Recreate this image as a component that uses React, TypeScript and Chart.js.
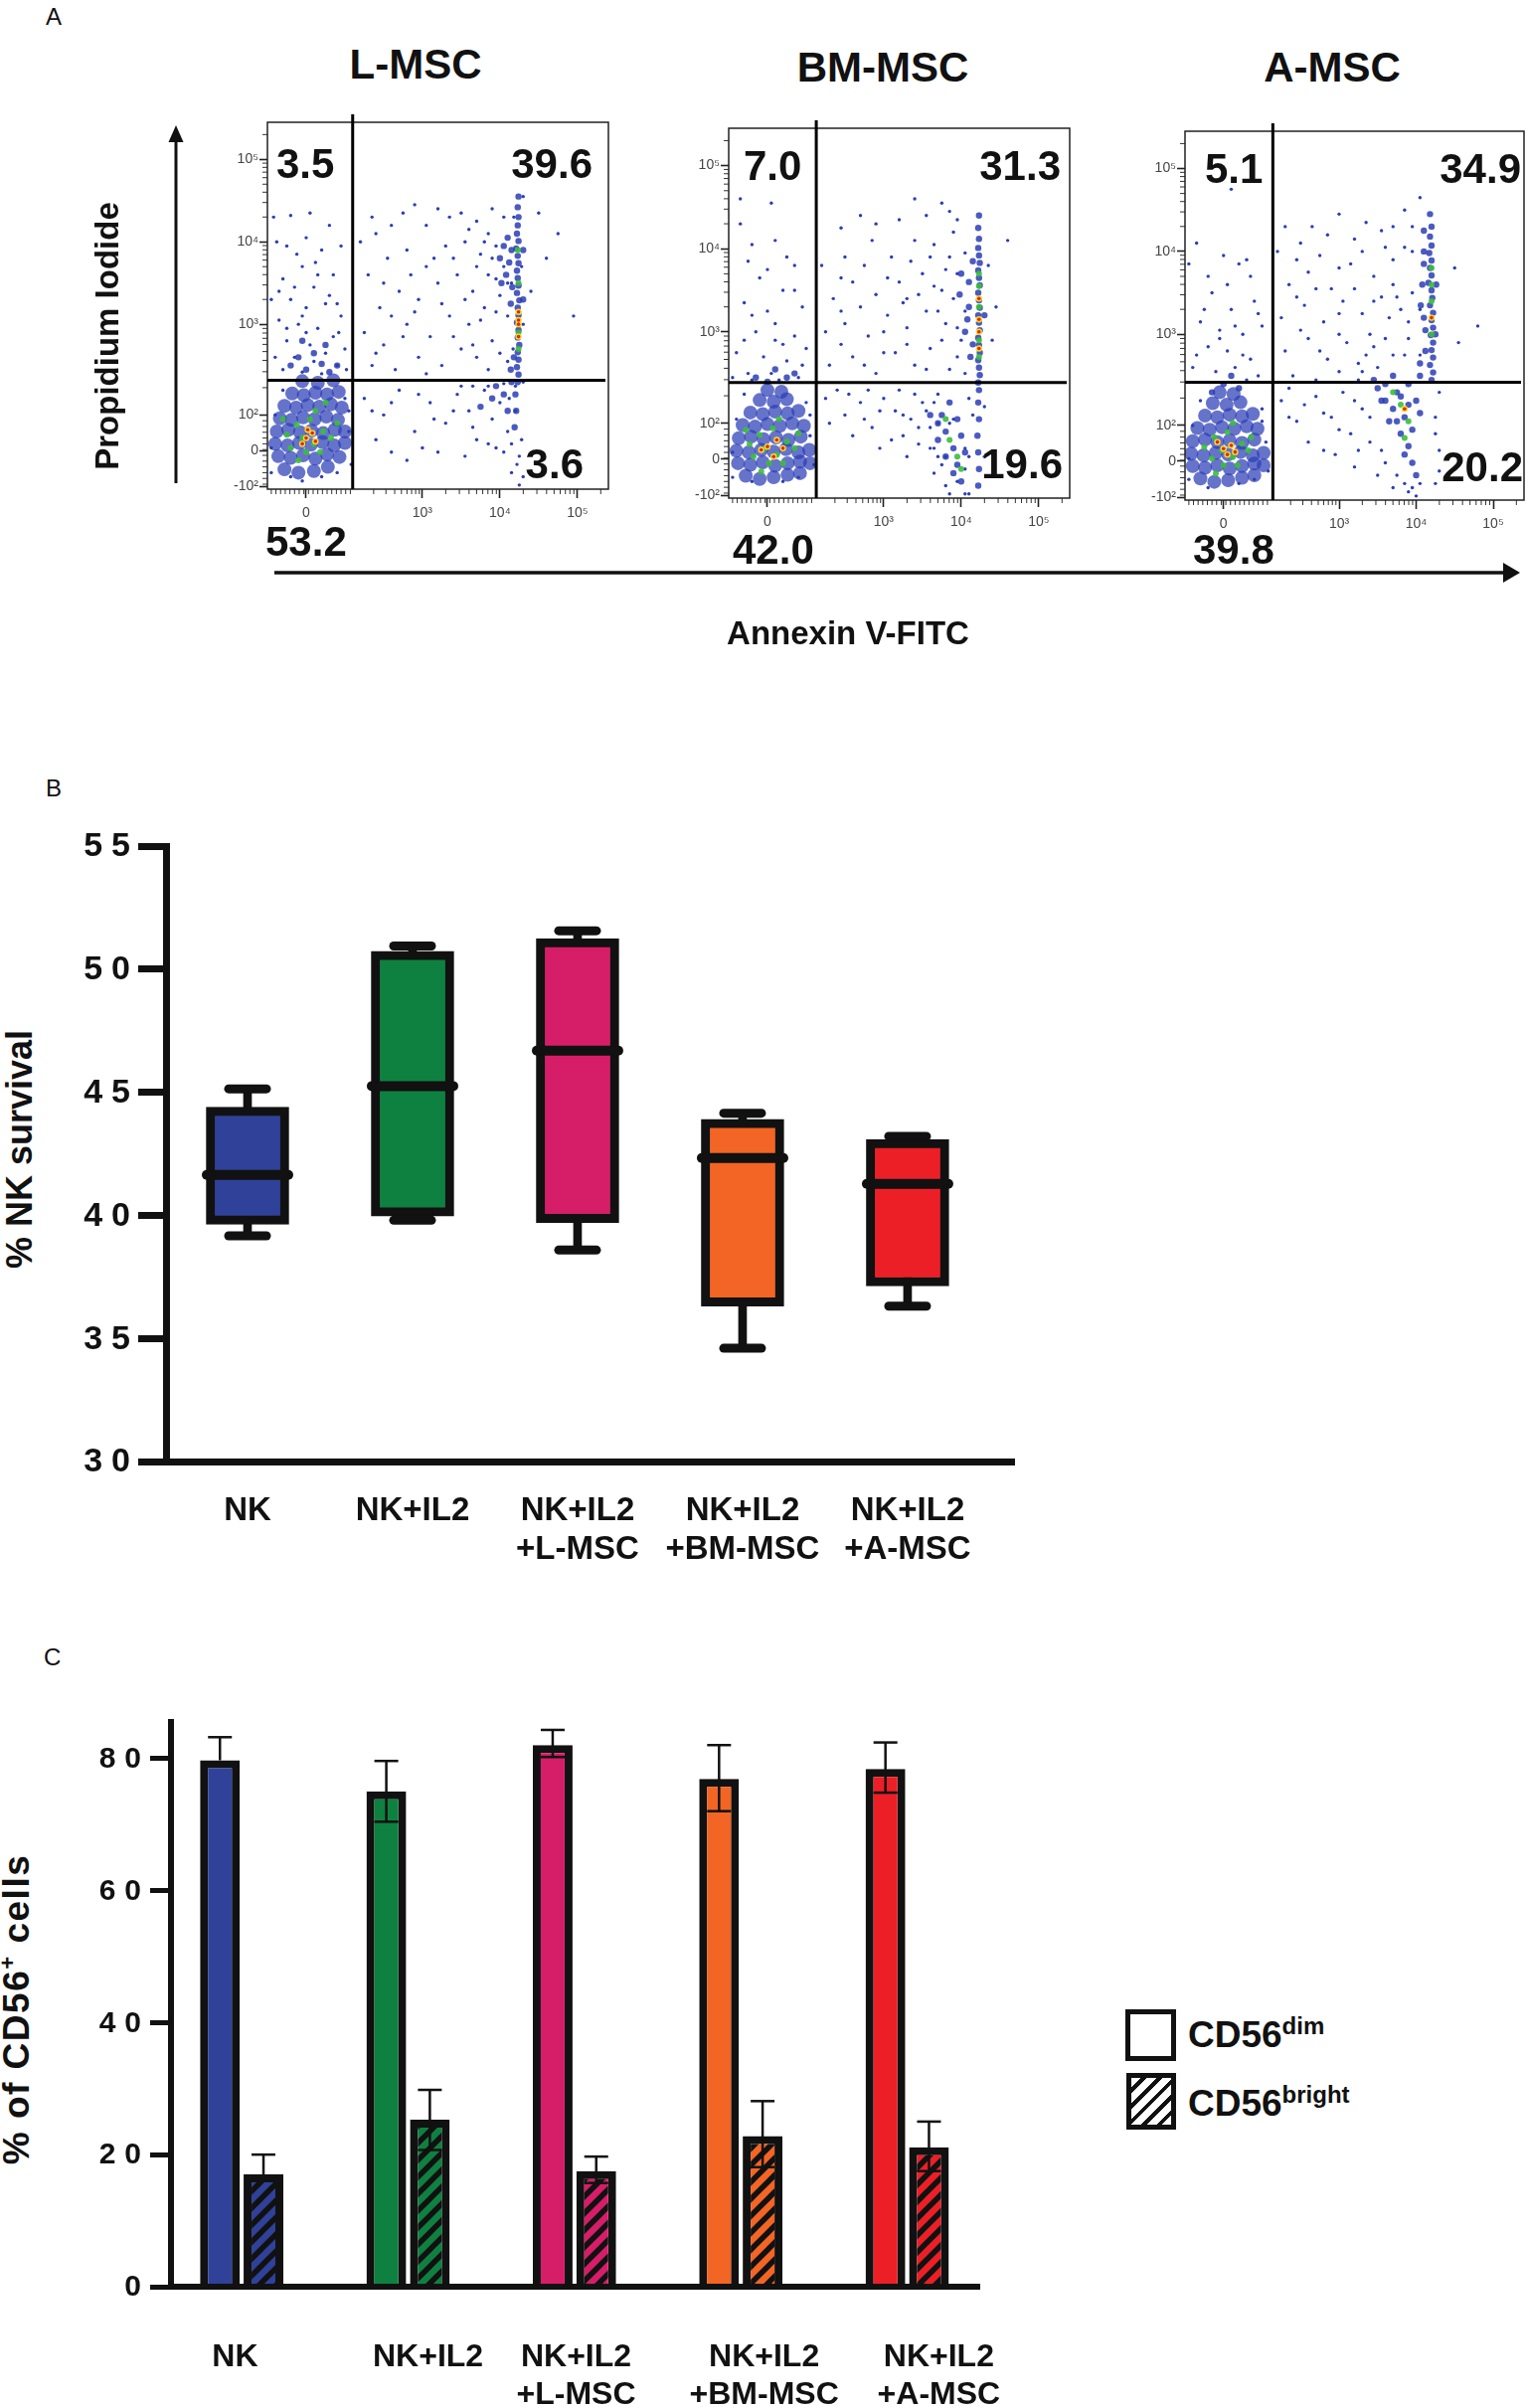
import React, { useEffect, useRef } from 'react'
import { Chart, registerables } from 'chart.js'

Chart.register(...registerables)

const FONT = "'Liberation Sans', Arial, Helvetica, sans-serif"

// ---------- Panel A: Annexin V / PI dot plots (units = decades of the display scale) ----------
const flowXTicks = [1.5, 3, 4, 5]
const flowXLabels = ['0', '10³', '10⁴', '10⁵']
const flowYTicks = [1.03, 1.47, 1.9, 3, 4, 5]
const flowYLabels = ['-10²', '0', '10²', '10³', '10⁴', '10⁵']

const flowTitles = ['L-MSC', 'BM-MSC', 'A-MSC']
// quadrant percentages: upper-left, upper-right, lower-right, lower-left
const lmscQuad = ['3.5', '39.6', '3.6', '53.2']
const bmQuad = ['7.0', '31.3', '19.6', '42.0']
const aQuad = ['5.1', '34.9', '20.2', '39.8']

// quadrant gate [x, y]
const lmscGate = [2.1, 2.32]
const bmGate = [2.13, 2.39]
const aGate = [2.14, 2.42]

type Pt = [number, number]

const lmscDots: Pt[] = [
  [1.08, 4.3], [1.3, 4.32], [1.55, 4.35], [1.12, 4.0], [1.7, 3.9], [1.45, 3.7], [1.95, 3.95], [1.2, 3.55],
  [1.6, 3.45], [1.85, 3.6], [1.3, 3.3], [1.5, 3.2], [1.75, 3.25], [1.95, 3.1], [1.15, 3.05], [1.4, 3.0],
  [1.65, 2.95], [1.85, 2.85], [1.25, 2.8], [1.55, 2.75], [1.75, 2.65], [2.0, 2.7], [1.35, 2.6], [1.6, 2.55],
  [1.9, 2.5], [1.2, 2.45], [1.45, 2.42], [1.7, 2.4], [2.02, 2.45], [1.1, 2.6], [1.38, 3.85], [1.8, 3.35],
  [1.05, 3.3], [1.62, 3.75], [1.92, 2.9], [1.5, 2.9],
  [1.25, 3.95], [1.5, 4.05], [1.8, 4.2], [1.35, 3.45], [1.65, 3.6], [1.15, 3.4], [1.9, 3.25], [1.45, 3.1], [1.25, 2.95],
  [2.2, 4.0], [2.35, 4.3], [2.6, 4.2], [2.9, 4.45], [3.2, 4.4], [3.5, 4.35], [3.7, 4.25], [3.9, 4.4],
  [2.3, 3.6], [2.55, 3.8], [2.8, 3.9], [3.05, 3.7], [3.3, 3.95], [3.55, 4.0], [3.75, 3.85], [3.95, 3.95],
  [2.45, 3.2], [2.7, 3.4], [2.95, 3.3], [3.2, 3.5], [3.45, 3.6], [3.65, 3.4], [3.85, 3.6], [4.05, 3.7],
  [2.25, 2.9], [2.5, 2.75], [2.8, 3.0], [3.1, 2.85], [3.35, 3.1], [3.6, 3.0], [3.8, 3.2], [4.0, 3.35],
  [2.35, 2.5], [2.65, 2.45], [2.95, 2.6], [3.25, 2.5], [3.5, 2.7], [3.7, 2.6], [3.9, 2.8], [4.1, 2.55],
  [4.4, 3.4], [4.6, 3.8], [4.75, 4.1], [4.95, 3.1], [4.5, 4.35],
  [2.4, 4.1], [2.75, 4.35], [3.05, 4.2], [3.35, 4.3], [3.6, 4.15], [3.85, 4.1], [4.05, 4.3], [2.5, 3.5],
  [2.85, 3.6], [3.15, 3.8], [3.4, 3.8], [3.7, 3.7], [3.9, 3.8], [4.1, 3.5], [2.6, 3.1], [2.9, 3.15],
  [3.25, 3.25], [3.55, 3.3], [3.75, 3.05], [3.95, 3.15], [4.1, 3.1], [2.4, 2.65], [2.75, 2.85], [3.05, 2.4],
  [3.4, 2.85], [3.65, 2.75], [3.85, 2.45], [4.0, 2.65], [3.95, 3.55], [3.8, 4.0],
  [2.25, 2.1], [2.5, 1.9], [2.7, 2.2], [2.9, 1.7], [3.1, 2.05], [3.3, 1.8], [3.45, 2.15], [3.6, 1.95],
  [3.7, 1.6], [3.8, 2.2], [3.9, 1.85], [4.0, 2.05], [4.1, 1.7], [4.2, 1.95], [4.25, 1.4], [4.15, 1.2],
  [3.95, 1.5], [3.55, 1.4], [3.2, 1.45], [2.8, 1.35], [2.4, 1.6], [4.25, 1.05], [3.65, 2.25], [4.05, 2.28],
  [2.35, 1.95], [2.6, 2.05], [2.95, 2.15], [3.15, 1.85], [3.4, 1.95], [3.65, 1.75], [3.85, 1.55], [4.05, 1.45],
  [3.5, 2.25], [3.0, 1.5], [2.6, 1.45], [4.2, 2.25], [4.15, 1.55], [3.85, 2.25],
  [4.3, 4.55], [4.18, 4.3], [4.28, 3.7], [4.15, 3.5], [4.3, 3.0], [4.17, 2.7], [4.3, 2.3], [4.12, 2.1],
  [4.28, 1.6], [4.22, 1.3], [4.3, 1.15],
  [1.05, 1.2], [1.1, 1.9], [2.05, 1.7], [2.0, 2.1], [1.3, 1.15], [1.7, 1.15], [1.9, 1.2], [1.05, 1.5],
  [2.08, 1.3], [1.2, 2.2], [1.45, 1.1], [2.05, 1.95],
]
const lmscCore: Pt[] = [
  [1.22, 1.24], [1.4, 1.2], [1.6, 1.22], [1.78, 1.27],
  [1.14, 1.4], [1.3, 1.38], [1.46, 1.41], [1.62, 1.37], [1.77, 1.42], [1.93, 1.39],
  [1.1, 1.55], [1.26, 1.53], [1.41, 1.56], [1.56, 1.54], [1.71, 1.57], [1.86, 1.53], [2.0, 1.56],
  [1.12, 1.7], [1.27, 1.72], [1.42, 1.69], [1.57, 1.71], [1.72, 1.68], [1.87, 1.72], [2.0, 1.7],
  [1.16, 1.86], [1.31, 1.84], [1.46, 1.87], [1.61, 1.85], [1.76, 1.88], [1.91, 1.84],
  [1.22, 2.01], [1.37, 1.99], [1.52, 2.02], [1.67, 2.0], [1.82, 2.03], [1.96, 1.99],
  [1.32, 2.16], [1.47, 2.14], [1.62, 2.17], [1.77, 2.15], [1.92, 2.18],
  [1.45, 2.31], [1.65, 2.29], [1.85, 2.32],
]
const lmscBand: Pt[] = [
  [4.23, 2.3], [4.24, 2.39], [4.22, 2.48], [4.24, 2.57], [4.23, 2.66], [4.25, 2.75], [4.23, 2.84], [4.24, 2.93],
  [4.22, 3.02], [4.24, 3.11], [4.23, 3.2], [4.25, 3.29], [4.22, 3.38], [4.24, 3.47], [4.23, 3.56], [4.22, 3.65],
  [4.24, 3.74], [4.23, 3.83], [4.21, 3.92], [4.24, 4.01], [4.22, 4.1], [4.23, 4.2], [4.24, 4.3], [4.23, 4.42], [4.24, 4.55],
  [4.15, 3.9], [4.12, 3.75], [4.08, 3.6], [4.16, 3.45], [4.1, 4.05], [4.05, 3.95], [4.18, 2.6], [4.14, 2.45],
  [4.2, 2.15], [4.21, 1.95], [4.19, 1.75], [4.3, 3.3], [4.3, 3.9], [4.0, 3.8], [4.02, 3.5], [4.14, 3.25],
  [3.9, 2.1], [4.05, 2.15], [3.75, 2.0], [4.1, 1.95], [3.95, 2.25], [4.15, 2.3],
  [1.5, 2.45], [1.7, 2.52], [1.4, 2.6], [1.8, 2.42], [1.3, 2.5], [1.9, 2.5], [1.6, 2.65], [1.45, 2.8], [1.75, 2.75],
]
const lmscWarm: Pt[] = [
  [1.3, 1.5], [1.45, 1.62], [1.6, 1.55], [1.72, 1.7], [1.38, 1.78], [1.55, 1.85], [1.68, 1.45], [1.82, 1.62],
  [1.25, 1.66], [1.5, 1.45], [1.62, 1.95], [1.4, 1.35], [1.9, 1.8], [1.2, 1.85], [1.75, 2.05],
  [4.24, 2.9], [4.24, 3.5], [4.23, 3.9], [4.24, 2.7],
]
const lmscHot: Pt[] = [
  [1.5, 1.62], [1.58, 1.68], [1.45, 1.55], [1.62, 1.58], [1.52, 1.72],
  [4.24, 3.05], [4.24, 3.15], [4.24, 2.85], [4.24, 3.0],
]

const bmDots: Pt[] = [
  [1.15, 4.3], [1.3, 4.05], [1.6, 4.1], [1.85, 3.8], [1.4, 3.65], [1.7, 3.5], [1.2, 3.35], [1.5, 3.25],
  [1.95, 3.3], [1.35, 3.0], [1.6, 2.9], [1.85, 2.95], [1.1, 2.75], [1.45, 2.7], [1.75, 2.65], [2.0, 2.8],
  [1.25, 2.5], [1.55, 2.5], [1.9, 2.45], [1.3, 2.42], [1.65, 2.42], [1.05, 2.45], [1.15, 4.6], [1.55, 4.55],
  [1.25, 3.85], [1.5, 3.75], [1.75, 3.9], [1.3, 3.2], [1.6, 3.1], [1.85, 3.5], [1.2, 2.9], [1.7, 2.85], [1.95, 2.6],
  [2.7, 4.4], [3.4, 4.6], [3.75, 4.55], [3.95, 4.35], [2.2, 3.8], [2.5, 3.9], [2.85, 4.1], [3.1, 3.9],
  [3.4, 4.1], [3.65, 4.05], [3.9, 4.2], [2.35, 3.4], [2.6, 3.6], [2.9, 3.45], [3.2, 3.6], [3.5, 3.7],
  [3.75, 3.5], [4.35, 3.8], [4.45, 3.3], [2.25, 3.0], [2.5, 3.1], [2.8, 2.95], [3.05, 3.2], [3.3, 3.05],
  [3.55, 3.25], [3.8, 3.1], [2.3, 2.6], [2.6, 2.7], [2.9, 2.5], [3.15, 2.75], [3.4, 2.6], [3.6, 2.8],
  [3.85, 2.55], [4.0, 2.9], [4.6, 4.1], [4.4, 2.9], [3.95, 3.7], [3.7, 3.25], [3.3, 3.4],
  [2.45, 4.25], [2.9, 4.3], [3.2, 4.35], [3.55, 4.4], [3.85, 4.45], [2.45, 3.65], [2.75, 3.8], [3.05, 3.65],
  [3.35, 3.85], [3.6, 3.9], [3.85, 3.9], [4.05, 3.95], [2.45, 3.25], [2.7, 3.3], [3.0, 3.0], [3.25, 3.35],
  [3.45, 3.45], [3.65, 3.55], [3.9, 3.4], [4.05, 3.25], [2.45, 2.85], [2.75, 2.6], [3.0, 2.75], [3.3, 2.85],
  [3.55, 2.55], [3.75, 2.9], [3.95, 2.7], [4.05, 2.5], [3.95, 3.05], [3.8, 3.75],
  [2.25, 2.2], [2.5, 2.0], [2.7, 2.15], [2.85, 1.85], [3.0, 2.2], [3.1, 1.7], [3.25, 2.0], [3.4, 2.25],
  [3.45, 1.85], [3.55, 2.05], [3.6, 1.6], [3.7, 2.25], [3.3, 1.5], [2.95, 1.6], [2.6, 1.75], [3.65, 1.3],
  [3.8, 1.15], [4.1, 1.05], [4.3, 1.5], [4.3, 2.1], [2.4, 2.3], [3.2, 2.3], [2.8, 2.3],
  [2.3, 1.9], [2.55, 2.25], [2.75, 1.95], [2.95, 2.05], [3.15, 2.05], [3.35, 1.95], [3.5, 2.15], [3.6, 1.85],
  [3.7, 1.5], [3.45, 1.65], [3.25, 1.75], [4.1, 1.5], [4.15, 2.0], [4.05, 1.35], [3.75, 1.4], [3.85, 1.9],
  [4.1, 2.2], [3.65, 2.15], [3.7, 1.9], [3.8, 1.5], [3.9, 1.95], [4.05, 1.6], [3.95, 1.2], [3.85, 1.05],
  [4.05, 1.05], [3.65, 1.6],
  [1.05, 1.25], [1.1, 1.95], [2.05, 1.75], [2.0, 2.15], [1.3, 1.2], [1.7, 1.2], [1.9, 1.25], [1.05, 1.55],
  [2.1, 1.4], [1.2, 2.25], [2.05, 2.0],
]
const bmCore: Pt[] = [
  [1.22, 1.27], [1.4, 1.23], [1.58, 1.25], [1.76, 1.28], [1.92, 1.3],
  [1.12, 1.42], [1.28, 1.4], [1.44, 1.43], [1.6, 1.39], [1.76, 1.42], [1.92, 1.44], [2.05, 1.42],
  [1.1, 1.57], [1.26, 1.55], [1.42, 1.58], [1.58, 1.56], [1.74, 1.59], [1.9, 1.55], [2.04, 1.58],
  [1.13, 1.72], [1.29, 1.74], [1.45, 1.71], [1.61, 1.73], [1.77, 1.7], [1.93, 1.74],
  [1.18, 1.88], [1.34, 1.86], [1.5, 1.89], [1.66, 1.87], [1.82, 1.9], [1.97, 1.87],
  [1.28, 2.03], [1.44, 2.01], [1.6, 2.04], [1.76, 2.02], [1.9, 2.05],
  [1.4, 2.18], [1.58, 2.16], [1.75, 2.19], [1.5, 2.3], [1.68, 2.28],
]
const bmBand: Pt[] = [
  [4.23, 2.3], [4.22, 2.39], [4.24, 2.48], [4.23, 2.57], [4.22, 2.66], [4.24, 2.75], [4.23, 2.84], [4.22, 2.93],
  [4.24, 3.02], [4.23, 3.11], [4.22, 3.2], [4.24, 3.29], [4.23, 3.38], [4.22, 3.47], [4.24, 3.56], [4.23, 3.65],
  [4.22, 3.74], [4.24, 3.83], [4.23, 3.92], [4.22, 4.01], [4.23, 4.12], [4.22, 4.25], [4.23, 4.4],
  [4.22, 2.15], [4.23, 1.95], [4.21, 1.75], [4.22, 1.55], [4.23, 1.35], [4.22, 1.15],
  [4.1, 3.3], [4.05, 3.0], [4.12, 2.7], [4.1, 3.6], [3.98, 3.45], [4.15, 3.85], [4.08, 3.15], [4.15, 2.85],
  [4.0, 3.7], [4.3, 3.2],
  [3.8, 1.8], [3.9, 1.6], [3.95, 1.4], [3.75, 2.0], [3.85, 2.15], [3.9, 1.3], [4.0, 1.2], [3.7, 1.7],
  [4.0, 1.75], [3.6, 2.0], [3.8, 1.5], [3.95, 1.95], [4.05, 1.55], [3.7, 1.9],
  [1.5, 2.4], [1.75, 2.45], [1.35, 2.45], [1.6, 2.55], [1.85, 2.5],
]
const bmWarm: Pt[] = [
  [1.32, 1.5], [1.47, 1.6], [1.62, 1.52], [1.75, 1.68], [1.4, 1.76], [1.57, 1.84], [1.7, 1.42], [1.85, 1.6],
  [1.27, 1.65], [1.52, 1.42], [1.65, 1.95], [1.42, 1.32], [1.9, 1.78], [1.22, 1.82],
  [4.23, 2.9], [4.23, 3.3], [4.23, 3.55], [4.23, 2.7], [4.23, 3.7],
  [3.85, 1.7], [3.95, 1.5], [3.8, 1.95], [4.0, 1.35],
]
const bmHot: Pt[] = [
  [1.5, 1.62], [1.62, 1.7], [1.42, 1.58], [1.58, 1.5], [1.7, 1.6],
  [4.23, 3.0], [4.23, 3.15], [4.23, 2.8], [4.23, 3.4],
]

const aDots: Pt[] = [
  [1.15, 4.1], [1.6, 4.75], [1.5, 3.95], [1.7, 3.85], [1.85, 3.7], [1.35, 3.5], [1.6, 3.3], [1.9, 3.4],
  [1.2, 3.15], [1.45, 3.05], [1.75, 3.0], [2.0, 3.1], [1.3, 2.85], [1.55, 2.8], [1.85, 2.7], [1.1, 2.6],
  [1.4, 2.55], [1.65, 2.6], [1.95, 2.5], [1.25, 2.42], [1.8, 2.45], [1.05, 3.85],
  [1.3, 3.7], [1.55, 3.6], [1.8, 3.9], [1.25, 3.3], [1.65, 3.1], [1.95, 3.25], [1.45, 2.95], [1.75, 2.75], [1.15, 2.75],
  [2.2, 4.0], [2.5, 4.1], [2.85, 4.2], [3.2, 4.15], [3.55, 4.25], [3.85, 4.5], [4.05, 4.65], [2.35, 3.6],
  [2.6, 3.75], [2.9, 3.55], [3.15, 3.85], [3.45, 3.7], [3.7, 3.9], [3.95, 4.0], [2.25, 3.2], [2.55, 3.35],
  [2.8, 3.15], [3.05, 3.4], [3.3, 3.25], [3.55, 3.45], [3.8, 3.3], [2.3, 2.8], [2.6, 2.95], [2.85, 2.7],
  [3.1, 2.9], [3.35, 2.75], [3.6, 2.95], [3.85, 2.75], [2.4, 2.5], [2.7, 2.45], [3.0, 2.55], [3.25, 2.45],
  [4.5, 3.8], [4.8, 3.1], [4.55, 2.9], [3.7, 3.6], [3.4, 3.0], [3.95, 3.5], [3.5, 2.6],
  [2.3, 4.3], [2.65, 4.3], [3.0, 4.45], [3.35, 4.35], [3.7, 4.3], [3.95, 4.3], [2.45, 3.9], [2.75, 3.95],
  [3.0, 3.8], [3.3, 4.0], [3.6, 4.05], [3.85, 4.05], [2.45, 3.45], [2.7, 3.55], [3.0, 3.25], [3.2, 3.55],
  [3.45, 3.4], [3.65, 3.2], [3.9, 3.15], [4.05, 3.3], [2.5, 3.05], [2.75, 2.8], [3.0, 3.0], [3.25, 2.65],
  [3.45, 2.85], [3.7, 2.75], [3.9, 2.95], [4.05, 2.75], [3.3, 2.55], [3.75, 3.45],
  [2.25, 2.2], [2.45, 1.95], [2.7, 2.25], [2.9, 2.0], [3.05, 2.3], [3.15, 1.8], [3.3, 2.1], [3.4, 1.7],
  [2.6, 1.7], [2.95, 1.55], [3.2, 1.4], [3.5, 1.3], [3.7, 1.15], [4.0, 1.05], [4.25, 1.2], [4.3, 1.6],
  [4.25, 2.0], [4.3, 2.3], [3.55, 1.6], [2.35, 2.35],
  [2.35, 2.0], [2.55, 2.15], [2.8, 2.05], [3.0, 1.85], [3.2, 2.2], [3.4, 2.0], [3.25, 1.6], [2.8, 1.6],
  [3.6, 1.45], [3.75, 1.3], [3.85, 1.2], [3.95, 1.15], [4.05, 1.2], [3.9, 1.1], [4.3, 1.35], [4.25, 1.8],
  [1.05, 1.25], [1.1, 1.9], [2.05, 1.7], [2.0, 2.1], [1.3, 1.15], [1.7, 1.2], [1.9, 1.25], [1.05, 1.5],
  [2.08, 1.35], [1.2, 2.2], [2.0, 1.95],
]
const aCore: Pt[] = [
  [1.2, 1.26], [1.38, 1.22], [1.56, 1.24], [1.74, 1.27], [1.9, 1.3],
  [1.1, 1.41], [1.26, 1.39], [1.42, 1.42], [1.58, 1.38], [1.74, 1.41], [1.9, 1.44], [2.02, 1.42],
  [1.08, 1.56], [1.24, 1.54], [1.4, 1.57], [1.56, 1.55], [1.72, 1.58], [1.88, 1.54], [2.02, 1.57],
  [1.1, 1.71], [1.26, 1.73], [1.42, 1.7], [1.58, 1.72], [1.74, 1.69], [1.9, 1.73],
  [1.16, 1.87], [1.32, 1.85], [1.48, 1.88], [1.64, 1.86], [1.8, 1.89], [1.94, 1.86],
  [1.26, 2.02], [1.42, 2.0], [1.58, 2.03], [1.74, 2.01], [1.88, 2.04],
  [1.36, 2.17], [1.54, 2.15], [1.72, 2.18], [1.45, 2.3], [1.63, 2.28],
]
const aBand: Pt[] = [
  [4.2, 2.45], [4.22, 2.54], [4.18, 2.63], [4.22, 2.72], [4.2, 2.81], [4.22, 2.9], [4.19, 2.99], [4.22, 3.08],
  [4.2, 3.17], [4.22, 3.26], [4.18, 3.35], [4.21, 3.44], [4.2, 3.53], [4.16, 3.62], [4.2, 3.71], [4.18, 3.8],
  [4.2, 3.89], [4.17, 3.98], [4.2, 4.07], [4.18, 4.18], [4.2, 4.3], [4.18, 4.45],
  [4.1, 3.2], [4.08, 3.6], [4.12, 2.8], [4.1, 4.0], [4.06, 3.35], [4.25, 3.0], [4.26, 3.6], [4.1, 3.85],
  [4.12, 3.05], [4.05, 2.65], [4.1, 4.25],
  [3.6, 2.4], [3.75, 2.3], [3.9, 2.4], [4.0, 2.2], [3.7, 2.1], [3.85, 2.0], [3.95, 1.85], [3.8, 1.8],
  [3.65, 1.95], [3.9, 1.65], [3.95, 1.45], [4.0, 1.3], [3.55, 2.2], [4.05, 2.5], [3.45, 2.45], [3.7, 2.5],
  [3.5, 2.35], [4.05, 2.05], [3.8, 2.25], [3.9, 2.15], [3.75, 1.95], [3.85, 1.55], [3.6, 2.2],
  [1.5, 2.4], [1.7, 2.35], [1.35, 2.3], [1.6, 2.5],
]
const aWarm: Pt[] = [
  [1.35, 1.5], [1.48, 1.6], [1.62, 1.52], [1.74, 1.68], [1.38, 1.76], [1.55, 1.82], [1.68, 1.42], [1.82, 1.6],
  [1.25, 1.64], [1.5, 1.42], [1.62, 1.93], [1.4, 1.32], [1.86, 1.76],
  [4.2, 3.0], [4.2, 3.4], [4.2, 3.8], [4.2, 3.6], [3.8, 2.15], [3.9, 1.95], [3.7, 2.3], [3.85, 1.75],
]
const aHot: Pt[] = [[1.5, 1.62], [1.6, 1.66], [1.55, 1.55], [1.42, 1.7], [1.65, 1.58], [4.2, 3.2], [3.85, 2.1]]

// ---------- Panel B: % NK survival box plot ----------
const groupColors = ['#2f4198', '#0e8140', '#d61d68', '#f26524', '#ec1f27']
const bCategories = [['NK'], ['NK+IL2'], ['NK+IL2', '+L-MSC'], ['NK+IL2', '+BM-MSC'], ['NK+IL2', '+A-MSC']]
const bYTicks = [30, 35, 40, 45, 50, 55]
const bMin = [39.17, 39.8, 38.59, 34.6, 36.31]
const bQ1 = [39.64, 39.97, 39.71, 36.31, 37.13]
const bMedian = [41.64, 45.25, 46.69, 42.33, 41.28]
const bQ3 = [44.39, 50.73, 51.24, 43.9, 43.08]
const bMax = [45.14, 50.94, 51.56, 44.15, 43.21]

// ---------- Panel C: % of CD56+ cells ----------
const cCategories = bCategories
const cLabelAt = [-0.04, 1.12, 2.01, 3.14, 4.19]
const cYTicks = [0, 20, 40, 60, 80]
const cDim = [79.7, 75.0, 82.0, 76.9, 78.4]
const cDimUp = [3.5, 4.6, 2.3, 5.1, 4.0]
const cDimDown = [0, 4.6, 1.8, 4.9, 3.6]
const cBright = [17.0, 25.3, 17.5, 22.8, 21.1]
const cBrightUp = [3.0, 4.5, 2.2, 5.3, 3.9]
const cBrightDown = [0, 4.6, 1.8, 4.7, 3.6]

// minor tick marks of the flow axes (linear part near zero + log decades)
const minorTicks = (linLo: number, linHi: number, step: number, decades: number[][]) => {
  const out: number[] = []
  for (let v = linLo; v < linHi; v += step) out.push(v)
  decades.forEach(([a, b]) => [2, 3, 4, 5, 6, 7, 8, 9].forEach((k) => out.push(a + Math.log10(k) * (b - a))))
  return out
}
const xMinor = minorTicks(1.05, 2.1, 0.06, [[2.1, 3], [3, 4], [4, 5], [5, 6]])
const yMinor = minorTicks(1.06, 1.88, 0.07, [[1.9, 3], [3, 4], [4, 5], [5, 6]])

const flowDecor = {
  id: 'flowDecor',
  afterDatasetsDraw(chart: any, _args: any, opts: any) {
    const { ctx, chartArea: a } = chart
    const { x, y } = chart.scales
    ctx.save()
    ctx.strokeStyle = '#333'
    ctx.lineWidth = 1
    ctx.beginPath()
    xMinor.forEach((v) => {
      if (v <= x.min || v >= x.max) return
      const px = x.getPixelForValue(v)
      ctx.moveTo(px, a.bottom)
      ctx.lineTo(px, a.bottom + 5)
    })
    yMinor.forEach((v) => {
      if (v <= y.min || v >= y.max) return
      const py = y.getPixelForValue(v)
      ctx.moveTo(a.left - 5, py)
      ctx.lineTo(a.left, py)
    })
    ctx.stroke()
    ctx.lineWidth = 1.5
    ctx.strokeStyle = '#222'
    ctx.strokeRect(a.left, a.top, a.width, a.height)
    const gx = x.getPixelForValue(opts.gate[0])
    const gy = y.getPixelForValue(opts.gate[1])
    ctx.lineWidth = 3
    ctx.strokeStyle = '#000'
    ctx.beginPath()
    ctx.moveTo(gx, a.top - 8)
    ctx.lineTo(gx, a.bottom)
    ctx.moveTo(a.left, gy)
    ctx.lineTo(a.right - 3, gy)
    ctx.stroke()
    ctx.restore()
  },
}

const spacedYLabels = {
  id: 'spacedYLabels',
  afterDraw(chart: any, _args: any, o: any) {
    const { ctx } = chart
    const y = chart.scales.y
    ctx.save()
    ctx.font = `bold ${o.size}px ${FONT}`
    ctx.letterSpacing = `${o.spacing}px`
    ctx.fillStyle = '#111'
    ctx.textAlign = 'right'
    ctx.textBaseline = 'middle'
    y.ticks.forEach((t: any) => {
      ctx.fillText(String(t.value), chart.chartArea.left - o.gap + o.spacing, y.getPixelForValue(t.value) + 1)
    })
    ctx.restore()
  },
}

const boxDecor = {
  id: 'boxDecor',
  afterDatasetsDraw(chart: any) {
    const { ctx } = chart
    const y = chart.scales.y
    const meta = chart.getDatasetMeta(0)
    const line = (x1: number, y1: number, x2: number, y2: number) => {
      ctx.beginPath()
      ctx.moveTo(x1, y1)
      ctx.lineTo(x2, y2)
      ctx.stroke()
    }
    ctx.save()
    ctx.strokeStyle = '#111'
    ctx.lineCap = 'round'
    meta.data.forEach((bar: any, i: number) => {
      const cx = bar.x
      ctx.lineWidth = 9
      ;[bMin[i], bMax[i]].forEach((v) => {
        const py = y.getPixelForValue(v)
        line(cx - 19, py, cx + 19, py)
      })
      ctx.lineWidth = 10
      const pm = y.getPixelForValue(bMedian[i])
      line(cx - 41, pm, cx + 41, pm)
    })
    ctx.restore()
  },
}

const errorBars = {
  id: 'errorBars',
  afterDatasetsDraw(chart: any) {
    const { ctx } = chart
    const y = chart.scales.y
    const sets = [[cDim, cDimUp, cDimDown], [cBright, cBrightUp, cBrightDown]]
    const line = (x1: number, y1: number, x2: number, y2: number) => {
      ctx.beginPath()
      ctx.moveTo(x1, y1)
      ctx.lineTo(x2, y2)
      ctx.stroke()
    }
    ctx.save()
    ctx.strokeStyle = '#111'
    ctx.lineWidth = 2.5
    sets.forEach(([m, up, dn], d) => {
      chart.getDatasetMeta(d).data.forEach((bar: any, i: number) => {
        const cx = bar.x
        const top = y.getPixelForValue(m[i] + up[i])
        const bot = y.getPixelForValue(m[i] - dn[i])
        line(cx, top, cx, bot)
        line(cx - 12, top, cx + 12, top)
        if (dn[i] > 0) line(cx - 12, bot, cx + 12, bot)
      })
    })
    ctx.restore()
  },
}

function Txt(props: { x: number; y: number; size?: number; weight?: number; align?: string; rotate?: boolean; spacing?: number; children: any }) {
  const { x, y, size = 42, weight = 700, align = 'left', rotate = false, spacing = 0 } = props
  const tx = align === 'center' ? '-50%' : align === 'right' ? '-100%' : '0'
  return (
    <div
      style={{
        position: 'absolute', left: x, top: y, fontFamily: FONT, fontSize: size, fontWeight: weight,
        lineHeight: 1, whiteSpace: 'nowrap', color: '#111', letterSpacing: spacing,
        transform: rotate ? 'translate(-50%, -50%) rotate(-90deg)' : `translate(${tx}, -50%)`,
      }}
    >
      {props.children}
    </div>
  )
}

const Y_W = 46
const X_H = 44
const PAD = 12

function FlowPlot(props: { area: number[]; dots: Pt[]; core: Pt[]; band: Pt[]; warm: Pt[]; hot: Pt[]; gate: number[] }) {
  const chartRef = useRef<HTMLCanvasElement>(null)
  const [l, t, w, h] = props.area

  useEffect(() => {
    if (!chartRef.current) return
    const xy = (p: Pt[]) => p.map(([x, y]) => ({ x, y }))
    const pt = { pointBorderWidth: 0, pointHoverRadius: 0 }
    const chart = new Chart(chartRef.current, {
      type: 'scatter',
      data: {
        datasets: [
          { data: xy(props.hot), pointRadius: 1.8, backgroundColor: '#e52420', ...pt },
          { data: xy(props.hot), pointRadius: 3.2, backgroundColor: '#f3dc2a', ...pt },
          { data: xy(props.warm), pointRadius: 3, backgroundColor: 'rgba(60,190,60,0.9)', ...pt },
          { data: xy(props.band), pointRadius: 3.2, backgroundColor: 'rgba(43,61,181,0.85)', ...pt },
          { data: xy(props.core), pointRadius: 7, backgroundColor: 'rgba(43,61,181,0.72)', ...pt },
          { data: xy(props.dots), pointRadius: 1.7, backgroundColor: '#2b3db5', ...pt },
        ],
      },
      options: {
        responsive: true,
        maintainAspectRatio: false,
        animation: false,
        events: [],
        layout: { padding: { top: PAD, right: PAD, left: 0, bottom: 0 } },
        plugins: { legend: { display: false }, tooltip: { enabled: false }, flowDecor: { gate: props.gate } } as any,
        scales: {
          x: {
            type: 'linear', min: 1.0, max: 5.4,
            afterBuildTicks: (s: any) => { s.ticks = flowXTicks.map((v) => ({ value: v })) },
            afterFit: (s: any) => { s.height = X_H },
            ticks: { callback: (_v: any, i: number) => flowXLabels[i], font: { family: FONT, size: 14 }, color: '#444', padding: 7, maxRotation: 0, autoSkip: false },
            grid: { drawOnChartArea: false, tickLength: 9, tickWidth: 1.6, tickColor: '#222' },
            border: { display: false },
          },
          y: {
            type: 'linear', min: 1.0, max: 5.45,
            afterBuildTicks: (s: any) => { s.ticks = flowYTicks.map((v) => ({ value: v })) },
            afterFit: (s: any) => { s.width = Y_W },
            ticks: { callback: (_v: any, i: number) => flowYLabels[i], font: { family: FONT, size: 14 }, color: '#444', padding: 1, autoSkip: false },
            grid: { drawOnChartArea: false, tickLength: 8, tickWidth: 1.6, tickColor: '#222' },
            border: { display: false },
          },
        },
      } as any,
      plugins: [flowDecor],
    })
    return () => chart.destroy()
  }, [])

  return (
    <div style={{ position: 'absolute', left: l - Y_W, top: t - PAD, width: Y_W + w + PAD, height: PAD + h + X_H }}>
      <canvas ref={chartRef} />
    </div>
  )
}

function BoxPanel() {
  const chartRef = useRef<HTMLCanvasElement>(null)
  useEffect(() => {
    if (!chartRef.current) return
    const chart = new Chart(chartRef.current, {
      type: 'bar',
      data: {
        datasets: [
          {
            data: bQ1.map((q, i) => ({ x: i, y: [q, bQ3[i]] })),
            backgroundColor: groupColors, borderColor: '#111', borderWidth: 9, borderSkipped: false,
            barThickness: 83, grouped: false, order: 1,
          },
          {
            data: bMin.map((m, i) => ({ x: i, y: [m, bMax[i]] })),
            backgroundColor: '#111', borderWidth: 0, barThickness: 8, grouped: false, order: 2,
          },
        ],
      } as any,
      options: {
        responsive: true,
        maintainAspectRatio: false,
        animation: false,
        events: [],
        layout: { padding: { top: 31, right: 20, left: 0, bottom: 0 } },
        plugins: { legend: { display: false }, tooltip: { enabled: false }, spacedYLabels: { size: 34, spacing: 9, gap: 36 } } as any,
        scales: {
          x: {
            type: 'linear', min: -0.494, max: 4.645, offset: false,
            afterBuildTicks: (s: any) => { s.ticks = bCategories.map((_c, i) => ({ value: i })) },
            afterFit: (s: any) => { s.height = 130 },
            ticks: { callback: (_v: any, i: number) => bCategories[i], font: { family: FONT, size: 33, weight: 'bold', lineHeight: 1.2 }, color: '#111', padding: 30, maxRotation: 0, autoSkip: false },
            grid: { display: false, drawTicks: false },
            border: { display: true, width: 7, color: '#111' },
          },
          y: {
            type: 'linear', min: 30, max: 55,
            afterBuildTicks: (s: any) => { s.ticks = bYTicks.map((v) => ({ value: v })) },
            afterFit: (s: any) => { s.width = 107 },
            ticks: { display: false },
            grid: { drawOnChartArea: false, tickLength: 28, tickWidth: 7, tickColor: '#111' },
            border: { display: true, width: 7, color: '#111' },
          },
        },
      } as any,
      plugins: [boxDecor, spacedYLabels],
    })
    return () => chart.destroy()
  }, [])
  return (
    <div style={{ position: 'absolute', left: 60, top: 820, width: 980, height: 780 }}>
      <canvas ref={chartRef} />
    </div>
  )
}

const makeHatch = (color: string) => {
  const s = 17
  const c = document.createElement('canvas')
  c.width = s
  c.height = s
  const g = c.getContext('2d') as CanvasRenderingContext2D
  g.fillStyle = color
  g.fillRect(0, 0, s, s)
  g.strokeStyle = '#111'
  g.lineWidth = 5.5
  g.beginPath()
  g.moveTo(0, s)
  g.lineTo(s, 0)
  g.moveTo(-s / 2, s / 2)
  g.lineTo(s / 2, -s / 2)
  g.moveTo(s / 2, s * 1.5)
  g.lineTo(s * 1.5, s / 2)
  g.stroke()
  return g.createPattern(c, 'repeat')
}

function BarPanel() {
  const chartRef = useRef<HTMLCanvasElement>(null)
  useEffect(() => {
    if (!chartRef.current) return
    const bar = { borderColor: '#111', borderWidth: 8, borderSkipped: 'start', categoryPercentage: 0.588, barPercentage: 0.913 }
    const chart = new Chart(chartRef.current, {
      type: 'bar',
      data: {
        datasets: [
          { label: 'CD56dim', data: cDim.map((v, i) => ({ x: i, y: v })), backgroundColor: groupColors, ...bar },
          { label: 'CD56bright', data: cBright.map((v, i) => ({ x: i, y: v })), backgroundColor: groupColors.map(makeHatch), ...bar },
        ],
      } as any,
      options: {
        responsive: true,
        maintainAspectRatio: false,
        animation: false,
        events: [],
        layout: { padding: { top: 32, right: 37, left: 0, bottom: 0 } },
        plugins: { legend: { display: false }, tooltip: { enabled: false }, spacedYLabels: { size: 30, spacing: 9, gap: 30 } } as any,
        scales: {
          x: {
            type: 'linear', min: -0.425, max: 4.434, offset: false,
            afterBuildTicks: (s: any) => { s.ticks = cLabelAt.map((v) => ({ value: v })) },
            afterFit: (s: any) => { s.height = 122 },
            ticks: { callback: (_v: any, i: number) => cCategories[i], font: { family: FONT, size: 32, weight: 'bold', lineHeight: 1.2 }, color: '#111', padding: 52, maxRotation: 0, autoSkip: false },
            grid: { display: false, drawTicks: false },
            border: { display: true, width: 6, color: '#111', z: 1 },
          },
          y: {
            type: 'linear', min: 0, max: 85.5,
            afterBuildTicks: (s: any) => { s.ticks = cYTicks.map((v) => ({ value: v })) },
            afterFit: (s: any) => { s.width = 112 },
            ticks: { display: false },
            grid: { drawOnChartArea: false, tickLength: 21, tickWidth: 5, tickColor: '#111' },
            border: { display: true, width: 6, color: '#111' },
          },
        },
      } as any,
      plugins: [errorBars, spacedYLabels],
    })
    return () => chart.destroy()
  }, [])
  return (
    <div style={{ position: 'absolute', left: 60, top: 1700, width: 1000, height: 722 }}>
      <canvas ref={chartRef} />
    </div>
  )
}

const flowPlots = [
  { area: [269, 123, 343, 369], dots: lmscDots, core: lmscCore, band: lmscBand, warm: lmscWarm, hot: lmscHot, gate: lmscGate, quad: lmscQuad, title: [418, 65] },
  { area: [733, 129, 343, 372], dots: bmDots, core: bmCore, band: bmBand, warm: bmWarm, hot: bmHot, gate: bmGate, quad: bmQuad, title: [888, 68] },
  { area: [1192, 132, 341, 371], dots: aDots, core: aCore, band: aBand, warm: aWarm, hot: aHot, gate: aGate, quad: aQuad, title: [1340, 68] },
]
// label anchors: upper-left (left-aligned), upper-right, lower-right (right-aligned), lower-left (left-aligned)
const quadPos = [
  [[278, 165], [596, 165], [587, 467], [267, 545]],
  [[748, 167], [1067, 167], [1069, 467], [737, 553]],
  [[1212, 170], [1530, 170], [1532, 470], [1200, 553]],
]

export default function App() {
  return (
    <div style={{ position: 'absolute', left: 0, top: 0, width: 1535, height: 2422, overflow: 'hidden', background: '#fff', fontFamily: FONT, color: '#111' }}>
      <Txt x={46} y={17} size={24} weight={400}>A</Txt>
      {flowPlots.map((p, k) => (
        <React.Fragment key={k}>
          <Txt x={p.title[0]} y={p.title[1]} align="center">{flowTitles[k]}</Txt>
          <FlowPlot area={p.area} dots={p.dots} core={p.core} band={p.band} warm={p.warm} hot={p.hot} gate={p.gate} />
          {p.quad.map((q, j) => (
            <Txt key={j} x={quadPos[k][j][0]} y={quadPos[k][j][1]} align={j === 1 || j === 2 ? 'right' : 'left'}>{q}</Txt>
          ))}
        </React.Fragment>
      ))}
      <svg style={{ position: 'absolute', left: 0, top: 0 }} width={1535} height={660}>
        <line x1={177} y1={486} x2={177} y2={140} stroke="#111" strokeWidth={3} />
        <polygon points="177,126 169.5,143 184.5,143" fill="#111" />
        <line x1={276} y1={576} x2={1514} y2={576} stroke="#111" strokeWidth={3.5} />
        <polygon points="1529,576 1512,566 1512,586" fill="#111" />
      </svg>
      <Txt x={107} y={338} size={33} rotate>Propidium Iodide</Txt>
      <Txt x={853} y={636} size={33} align="center">Annexin V-FITC</Txt>

      <Txt x={46} y={793} size={24} weight={400}>B</Txt>
      <Txt x={20} y={1156} size={36} rotate>% NK survival</Txt>
      <BoxPanel />

      <Txt x={44} y={1667} size={24} weight={400}>C</Txt>
      <Txt x={16} y={2021} size={37} spacing={1.5} rotate>
        % of CD56<sup style={{ fontSize: '0.6em' }}>+</sup> cells
      </Txt>
      <BarPanel />
      <div style={{ position: 'absolute', left: 1132, top: 2021, width: 51, height: 52, boxSizing: 'border-box', border: '5px solid #111', background: '#fff' }} />
      <div style={{ position: 'absolute', left: 1133, top: 2085, width: 50, height: 57, boxSizing: 'border-box', border: '5px solid #111', background: 'repeating-linear-gradient(135deg, #fff 0px, #fff 7px, #111 7px, #111 11px)' }} />
      <div style={{ position: 'absolute', left: 1195, top: 2028, fontFamily: FONT, fontWeight: 700, fontSize: 37, lineHeight: 1, whiteSpace: 'nowrap' }}>
        CD56<span style={{ fontSize: 24, position: 'relative', top: -13 }}>dim</span>
      </div>
      <div style={{ position: 'absolute', left: 1195, top: 2097, fontFamily: FONT, fontWeight: 700, fontSize: 37, lineHeight: 1, whiteSpace: 'nowrap' }}>
        CD56<span style={{ fontSize: 24, position: 'relative', top: -13 }}>bright</span>
      </div>
    </div>
  )
}
